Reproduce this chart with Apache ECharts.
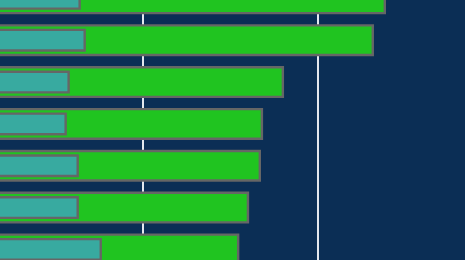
<!DOCTYPE html>
<html>
<head>
<meta charset="utf-8">
<script src="https://cdn.jsdelivr.net/npm/echarts@6/dist/echarts.min.js"></script>
<style>
html,body{margin:0;padding:0;background:#0b2e55;}
#chart{width:465px;height:260px;}
</style>
</head>
<body>
<div id="chart"></div>
<script>
var categories = ['A', 'B', 'C', 'D', 'E', 'F', 'G'];
var totalValues = [239.3, 232.4, 180.9, 168.9, 167.7, 160.9, 155.3];
var partValues = [64.5, 67.4, 58.2, 56.5, 63.4, 63.4, 76.6];
var xTicks = [0, 100, 200, 300];

var chart = echarts.init(document.getElementById('chart'), null, {renderer: 'canvas'});
var catAxis = function () {
  return {
    type: 'category',
    data: categories,
    inverse: true,
    show: false,
    axisLine: {show: false},
    axisTick: {show: false},
    axisLabel: {show: false},
    splitLine: {show: false}
  };
};
chart.setOption({
  backgroundColor: '#0b2e55',
  animation: false,
  grid: {left: -31.8, top: -22.6, width: 523.8, height: 293, outerBoundsMode: 'none', containLabel: false},
  xAxis: {
    type: 'value',
    min: xTicks[0],
    max: xTicks[xTicks.length - 1],
    interval: 100,
    axisLine: {show: false},
    axisTick: {show: false},
    axisLabel: {show: false},
    splitLine: {show: true, lineStyle: {color: '#e4e8ee', width: 2}}
  },
  yAxis: [catAxis(), catAxis()],
  series: [
    {
      type: 'bar',
      yAxisIndex: 0,
      data: totalValues,
      barWidth: 32,
      itemStyle: {color: '#20c420', borderColor: '#666666', borderWidth: 2.4}
    },
    {
      type: 'bar',
      yAxisIndex: 1,
      data: partValues,
      barWidth: 23,
      itemStyle: {color: '#38aaa0', borderColor: '#666666', borderWidth: 2.4}
    }
  ]
});
</script>
</body>
</html>
